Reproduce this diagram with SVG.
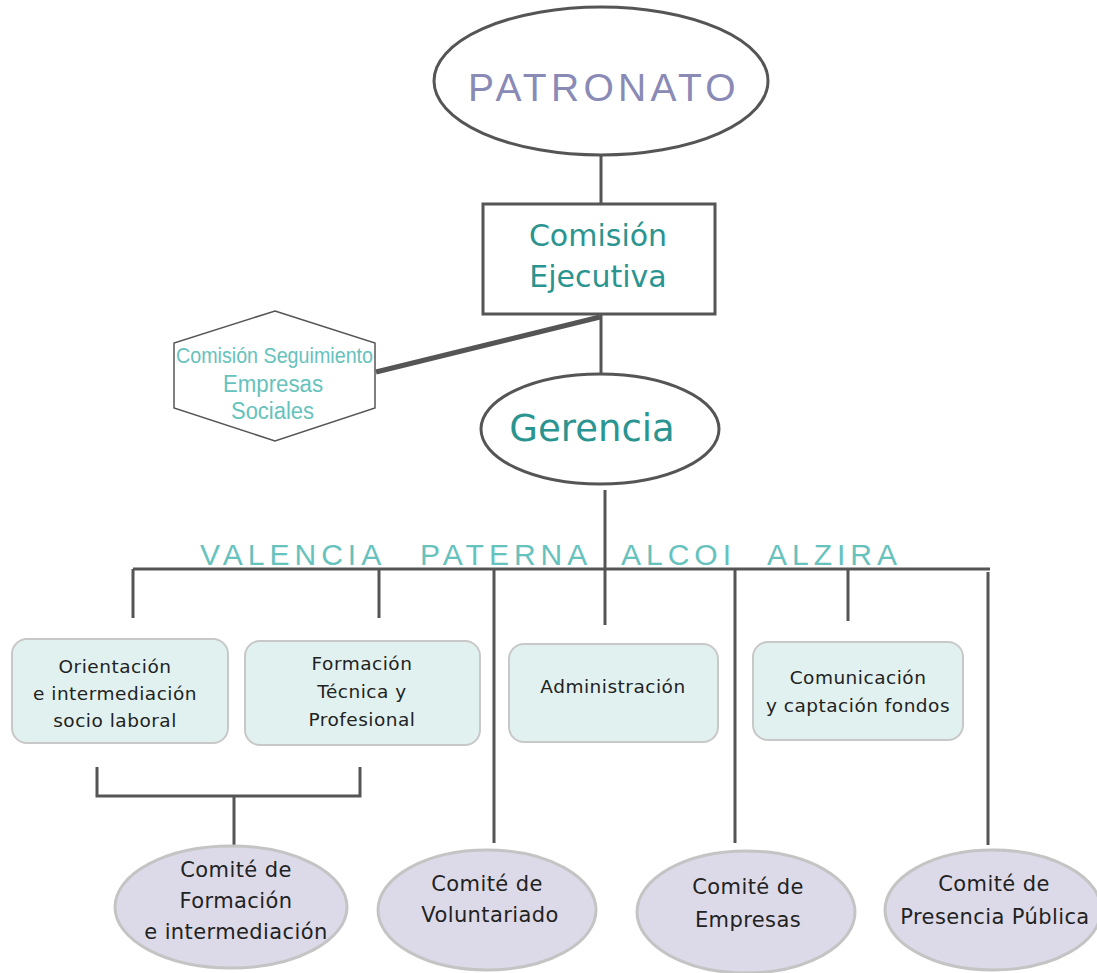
<svg xmlns="http://www.w3.org/2000/svg" width="1097" height="973" viewBox="0 0 1097 973">
<style>
.ln{stroke:#555;stroke-width:3;fill:none}
.box{fill:#e1f1ef;stroke:#c8c8c8;stroke-width:2}
.com{fill:#dcdae8;stroke:#c4c4c4;stroke-width:3}
.t{font-family:"DejaVu Sans",sans-serif;fill:#222;text-anchor:middle;font-size:18.5px;letter-spacing:0.5px}
.tc{font-family:"DejaVu Sans",sans-serif;fill:#222;text-anchor:middle;font-size:21px;letter-spacing:0.4px}
.teal{font-family:"DejaVu Sans",sans-serif;fill:#2a9490;text-anchor:middle}
.lt{font-family:"Liberation Sans",sans-serif;fill:#66c2bd}
.city{font-family:"Liberation Sans",sans-serif;fill:#66c2bd;font-size:30px;letter-spacing:5px}
</style>
<rect width="1097" height="973" fill="#fff"/>
<g id="connectors">
<line class="ln" x1="601" y1="155" x2="601" y2="204"/>
<line class="ln" x1="601" y1="314" x2="601" y2="374"/>
<line class="ln" x1="600" y1="317" x2="376" y2="372" style="stroke-width:5"/>
<line class="ln" x1="605" y1="490" x2="605" y2="625"/>
<line class="ln" x1="133" y1="569" x2="990" y2="569"/>
<line class="ln" x1="133" y1="569" x2="133" y2="618"/>
<line class="ln" x1="379" y1="569" x2="379" y2="618"/>
<line class="ln" x1="494" y1="569" x2="494" y2="843"/>
<line class="ln" x1="735" y1="569" x2="735" y2="843"/>
<line class="ln" x1="848" y1="569" x2="848" y2="621"/>
<line class="ln" x1="988" y1="572" x2="988" y2="845"/>
<polyline class="ln" points="97,767 97,796 360,796 360,767"/>
<line class="ln" x1="234" y1="796" x2="234" y2="846"/>
</g>
<g id="patronato">
<ellipse cx="601" cy="81" rx="167" ry="74" fill="#fff" stroke="#555" stroke-width="3"/>
<text x="604" y="101" font-family="Liberation Sans, sans-serif" font-size="39" fill="#8a8ab6" text-anchor="middle" letter-spacing="4.3">PATRONATO</text>
</g>
<g id="comision-ejecutiva">
<rect x="483" y="204" width="232" height="110" fill="#fff" stroke="#555" stroke-width="3"/>
<text class="teal" x="598" y="246" font-size="30">Comisión</text>
<text class="teal" x="598" y="287" font-size="30">Ejecutiva</text>
</g>
<g id="comision-seguimiento">
<polygon points="275,311 375,343 375,408 275,441 174,408 174,343" fill="#fff" stroke="#555" stroke-width="1.5"/>
<text class="lt" x="176" y="363" font-size="22" textLength="197" lengthAdjust="spacingAndGlyphs">Comisión Seguimiento</text>
<text class="lt" x="223" y="392" font-size="23" textLength="100" lengthAdjust="spacingAndGlyphs">Empresas</text>
<text class="lt" x="231" y="419" font-size="23" textLength="83" lengthAdjust="spacingAndGlyphs">Sociales</text>
</g>
<g id="gerencia">
<ellipse cx="600" cy="429" rx="119" ry="55" fill="#fff" stroke="#555" stroke-width="3"/>
<text class="teal" x="592" y="441" font-size="37">Gerencia</text>
</g>
<g id="sedes">
<text class="city" x="200" y="565">VALENCIA</text>
<text class="city" x="420" y="565">PATERNA</text>
<text class="city" x="621" y="565">ALCOI</text>
<text class="city" x="767" y="565">ALZIRA</text>
</g>
<g id="orientacion">
<rect class="box" x="12" y="639" width="216" height="104" rx="15"/>
<text class="t" x="115" y="673">Orientación</text>
<text class="t" x="115" y="700">e intermediación</text>
<text class="t" x="115" y="727">socio laboral</text>
</g>
<g id="formacion">
<rect class="box" x="245" y="641" width="235" height="104" rx="15"/>
<text class="t" x="362" y="670">Formación</text>
<text class="t" x="362" y="698">Técnica y</text>
<text class="t" x="362" y="726">Profesional</text>
</g>
<g id="administracion">
<rect class="box" x="509" y="644" width="209" height="98" rx="15"/>
<text class="t" x="613" y="693">Administración</text>
</g>
<g id="comunicacion">
<rect class="box" x="753" y="642" width="210" height="98" rx="15"/>
<text class="t" x="858" y="684">Comunicación</text>
<text class="t" x="858" y="712">y captación fondos</text>
</g>
<g id="comite-formacion">
<ellipse class="com" cx="231" cy="907" rx="116" ry="61"/>
<text class="tc" x="236" y="877">Comité de</text>
<text class="tc" x="236" y="908">Formación</text>
<text class="tc" x="236" y="939">e intermediación</text>
</g>
<g id="comite-voluntariado">
<ellipse class="com" cx="487" cy="910" rx="109" ry="60"/>
<text class="tc" x="487" y="891">Comité de</text>
<text class="tc" x="490" y="922">Voluntariado</text>
</g>
<g id="comite-empresas">
<ellipse class="com" cx="746" cy="912" rx="109" ry="61"/>
<text class="tc" x="748" y="894">Comité de</text>
<text class="tc" x="748" y="927">Empresas</text>
</g>
<g id="comite-presencia">
<ellipse class="com" cx="993" cy="910" rx="108" ry="60"/>
<text class="tc" x="994" y="891">Comité de</text>
<text class="tc" x="995" y="924">Presencia Pública</text>
</g>
</svg>
